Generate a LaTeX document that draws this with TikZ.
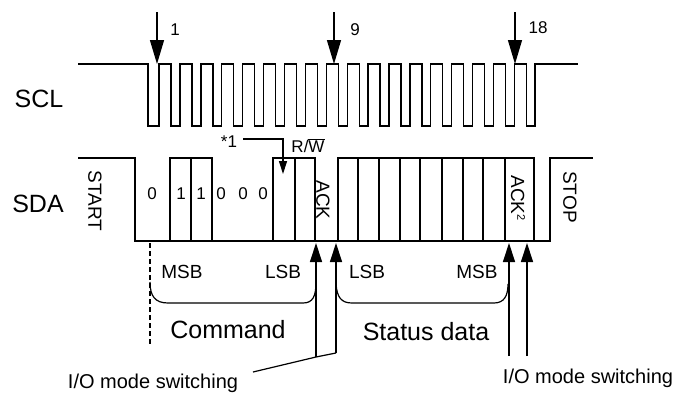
\documentclass[tikz,border=0pt]{standalone}
\usepackage{fontspec}
\setmainfont{Liberation Sans}
\usetikzlibrary{arrows.meta}
\begin{document}
\begin{tikzpicture}[x=1pt,y=-1pt,
  wave/.style={line width=1.3pt, line join=miter},
  big/.style={font=\fontsize{25}{28}\selectfont, inner sep=0pt},
  mid/.style={font=\fontsize{19}{22}\selectfont, inner sep=0pt},
  iotext/.style={font=\fontsize{20}{22}\selectfont, inner sep=0pt},
  small/.style={font=\fontsize{17}{19}\selectfont, inner sep=0pt},
  sbit/.style={font=\fontsize{19}{21}\selectfont, inner sep=0pt},
  toparrow/.style={line width=1.3pt, -{Triangle[length=24pt,width=14pt]}},
  botarrow/.style={line width=1.3pt, -{Triangle[length=19pt,width=12pt]}},
  smallarrow/.style={line width=1.2pt, -{Triangle[length=13pt,width=8pt]}},
  brace/.style={line width=1.2pt}]
\useasboundingbox (0,0) rectangle (673,392);

% SCL waveform
\draw[wave] (78,64) -- (148,64) -- (148,126)
  \foreach \k in {0,...,17} {
    -- ({159.1+20.9*\k},126) -- ({159.1+20.9*\k},64)
    -- ({171.1+20.9*\k},64) -- ({171.1+20.9*\k},126) }
  -- (535,126) -- (535,64) -- (578,64);

% SDA waveform
\draw[wave] (78,158) -- (135,158) -- (135,241) -- (550,241) -- (550,158) -- (593,158);
\draw[wave] (170,241) rectangle (212,158);
\draw[wave] (191,158) -- (191,241);
\draw[wave] (273,241) rectangle (315,158);
\draw[wave] (295,158) -- (295,241);
\draw[wave] (338,241) rectangle (534,158);
\foreach \x in {358,379,400,420,442,463,483,505} \draw[wave] (\x,158) -- (\x,241);

% signal names
\node[big] (scl) at (39,99) {SCL};
\node[big] (sda) at (38,204) {SDA};

% clock arrows
\coordinate (a1s) at (157,12); \coordinate (a1e) at (157,64);
\coordinate (a9s) at (334,12); \coordinate (a9e) at (334,64);
\coordinate (a18s) at (515,12); \coordinate (a18e) at (515,64);
\draw[toparrow] (a1s) -- (a1e);
\draw[toparrow] (a9s) -- (a9e);
\draw[toparrow] (a18s) -- (a18e);
\node[small] (n1) at (175,30) {1};
\node[small] (n9) at (355,30) {9};
\node[small] (n18) at (538,28) {18};

% SDA texts
\node[mid, rotate=-90] (start) at (95,201) {START};
\node[mid, rotate=-90] (ack) at (323,200) {ACK};
\node[mid, rotate=-90] (ack2) at (518,198) {ACK\raisebox{0.6ex}{\fontsize{11}{12}\selectfont 2}};
\node[mid, rotate=-90] (stop) at (570,197) {STOP};
\foreach \x/\t [count=\i] in {152/0,181/1,201/1,221/0,243/0,263/0}
  \node[small] (d\i) at (\x,194) {\t};

% *1 and R/W
\node[small] (star) at (229,142) {*1};
\coordinate (bit7) at (283,174);
\draw[smallarrow] (243,139) -| (bit7);
\node[small] (rw) at (308,146) {R/$\overline{\hbox{W}}$};

% dashed line
\draw[line width=1.1pt, dash pattern=on 5pt off 3pt] (150,243) -- (150,345);

% braces
\draw[brace] (150,282) .. controls (150,296) and (155,303) .. (168,303) -- (303,303)
  .. controls (313,303) and (316,296) .. (316,282);
\draw[brace] (336,284) .. controls (337,297) and (341,303) .. (352,303) -- (494,303)
  .. controls (504,303) and (508,296) .. (508,284);

% bit labels
\node[sbit] (msb1) at (182,272) {MSB};
\node[sbit] (lsb1) at (283,272) {LSB};
\node[sbit] (lsb2) at (367,272) {LSB};
\node[sbit] (msb2) at (477,272) {MSB};
\node[big] (cmd) at (228,330) {Command};
\node[big] (stat) at (426,332) {Status data};

% I/O mode switching arrows
\coordinate (pA) at (316,357); \coordinate (pB) at (336,353);
\coordinate (pC) at (509,356); \coordinate (pD) at (527,356);
\draw[botarrow] (pA) -- (316,243);
\draw[botarrow] (pB) -- (336,243);
\draw[botarrow] (pC) -- (509,243);
\draw[botarrow] (pD) -- (527,243);
\node[iotext] (io1) at (153,383) {I/O mode switching};
\node[iotext] (io2) at (588,378) {I/O mode switching};
\draw[line width=1.2pt] (253,372) -- (pA) -- (pB);
\end{tikzpicture}
\end{document}
